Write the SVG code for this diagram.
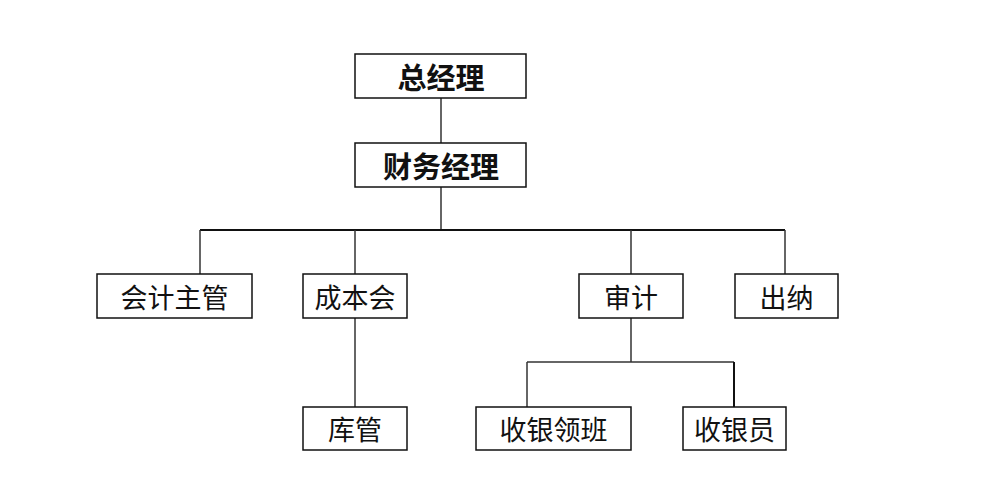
<svg xmlns="http://www.w3.org/2000/svg" width="997" height="502" viewBox="0 0 997 502">
<style>
.box{fill:#fff;stroke:#111;stroke-width:1.5}
.t{font-family:"Noto Sans CJK SC","Noto Sans CJK JP",sans-serif;font-size:27px;fill:#111;text-anchor:middle;dominant-baseline:central}
.b{font-weight:bold;font-size:29px}
#connectors path{fill:none;stroke:#333;stroke-width:1.5}
</style>
<rect width="997" height="502" fill="#fff"/>
<g id="connectors">
<path d="M441 98V143"/>
<path d="M441 187V230"/>
<path d="M200 230H785" style="stroke:#111;stroke-width:2"/>
<path d="M200 230V274"/>
<path d="M355 230V274"/>
<path d="M631 230V274"/>
<path d="M785 230V274"/>
<path d="M355 318V407"/>
<path d="M631 318V362"/>
<path d="M527 362H734"/>
<path d="M527 362V407"/>
<path d="M734 362V407" style="stroke:#111;stroke-width:2"/>
</g>
<g id="n1"><rect class="box" x="355" y="54" width="171" height="44"/><text class="t b" x="441" y="76">总经理</text></g>
<g id="n2"><rect class="box" x="355" y="143" width="171" height="44"/><text class="t b" x="441" y="165">财务经理</text></g>
<g id="n3"><rect class="box" x="97" y="274" width="155" height="44"/><text class="t" x="174.5" y="296">会计主管</text></g>
<g id="n4"><rect class="box" x="303" y="274" width="104" height="44"/><text class="t" x="355" y="296">成本会</text></g>
<g id="n5"><rect class="box" x="579" y="274" width="104" height="44"/><text class="t" x="631" y="296">审计</text></g>
<g id="n6"><rect class="box" x="735" y="274" width="103" height="44"/><text class="t" x="786.5" y="296">出纳</text></g>
<g id="n7"><rect class="box" x="303" y="407" width="104" height="43"/><text class="t" x="355" y="428.5">库管</text></g>
<g id="n8"><rect class="box" x="476" y="407" width="155" height="43"/><text class="t" x="553.5" y="428.5">收银领班</text></g>
<g id="n9"><rect class="box" x="683" y="407" width="103" height="43"/><text class="t" x="734.5" y="428.5">收银员</text></g>
</svg>
